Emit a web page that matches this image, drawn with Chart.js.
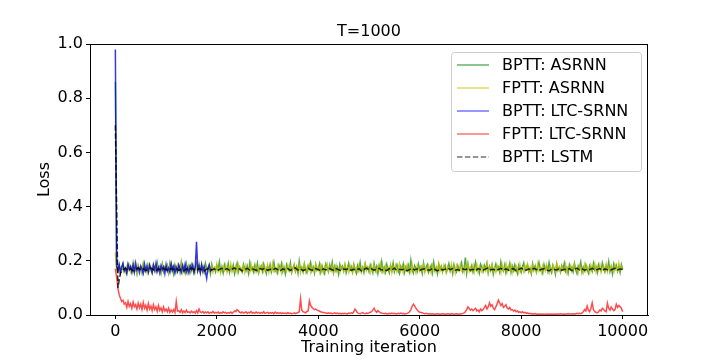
<!DOCTYPE html>
<html>
<head>
<meta charset="utf-8">
<script src="https://cdn.jsdelivr.net/npm/chart.js@4.4.1/dist/chart.umd.min.js"></script>
<style>
  body { margin: 0; background: #fff; }
  canvas { display: block; }
</style>
</head>
<body>
<canvas id="lossChart" width="720" height="360"></canvas>
<script>
/* ================= DATA ================= */
const xTicks = [0, 2000, 4000, 6000, 8000, 10000];
const yTicks = [0, 0.2, 0.4, 0.6, 0.8, 1.0];
const seriesNames = ['BPTT: ASRNN', 'FPTT: ASRNN', 'BPTT: LTC-SRNN', 'FPTT: LTC-SRNN', 'BPTT: LSTM'];
// logging interval (iterations) of each series
const logEvery = [25, 25, 25, 25, 50];

const bpttAsrnn = [
  0.86, 0.19, 0.165, 0.182, 0.157, 0.176, 0.188, 0.161, 0.173, 0.154, 0.185, 0.168, 0.179, 0.158, 0.191, 0.163, 0.174, 0.152, 0.183, 0.169,
  0.177, 0.156, 0.189, 0.164, 0.172, 0.186, 0.159, 0.18, 0.166, 0.153, 0.184, 0.171, 0.162, 0.193, 0.167, 0.178, 0.155, 0.187, 0.16, 0.175,
  0.168, 0.183, 0.157, 0.19, 0.164, 0.176, 0.152, 0.185, 0.17, 0.161, 0.181, 0.158, 0.194, 0.166, 0.173, 0.155, 0.188, 0.163, 0.179, 0.16,
  0.186, 0.169, 0.154, 0.177, 0.192, 0.162, 0.175, 0.158, 0.183, 0.167, 0.156, 0.19, 0.171, 0.164, 0.18, 0.153, 0.187, 0.165, 0.174, 0.159,
  0.182, 0.168, 0.196, 0.161, 0.176, 0.155, 0.185, 0.17, 0.163, 0.189, 0.157, 0.178, 0.166, 0.184, 0.152, 0.173, 0.191, 0.16, 0.177, 0.165,
  0.158, 0.187, 0.171, 0.162, 0.18, 0.154, 0.193, 0.167, 0.175, 0.159, 0.184, 0.164, 0.19, 0.156, 0.172, 0.181, 0.161, 0.188, 0.169, 0.153,
  0.179, 0.165, 0.186, 0.158, 0.174, 0.195, 0.162, 0.17, 0.155, 0.183, 0.167, 0.189, 0.16, 0.176, 0.152, 0.185, 0.171, 0.163, 0.192, 0.157,
  0.173, 0.184, 0.161, 0.178, 0.154, 0.198, 0.166, 0.175, 0.159, 0.187, 0.168, 0.156, 0.182, 0.171, 0.193, 0.163, 0.177, 0.155, 0.186, 0.164,
  0.17, 0.189, 0.158, 0.181, 0.165, 0.153, 0.188, 0.174, 0.16, 0.185, 0.167, 0.194, 0.157, 0.179, 0.162, 0.176, 0.151, 0.187, 0.169, 0.18,
  0.163, 0.184, 0.155, 0.172, 0.191, 0.166, 0.178, 0.159, 0.186, 0.17, 0.154, 0.182, 0.165, 0.193, 0.161, 0.175, 0.157, 0.188, 0.168, 0.177,
  0.16, 0.185, 0.171, 0.156, 0.19, 0.164, 0.179, 0.153, 0.183, 0.168, 0.197, 0.162, 0.176, 0.158, 0.187, 0.169, 0.155, 0.181, 0.166, 0.192,
  0.159, 0.174, 0.186, 0.163, 0.152, 0.18, 0.17, 0.189, 0.157, 0.177, 0.165, 0.184, 0.161, 0.202, 0.168, 0.155, 0.182, 0.172, 0.16, 0.188,
  0.167, 0.178, 0.154, 0.191, 0.163, 0.175, 0.186, 0.158, 0.17, 0.183, 0.156, 0.194, 0.165, 0.173, 0.152, 0.187, 0.169, 0.18, 0.161, 0.176,
  0.184, 0.157, 0.171, 0.19, 0.164, 0.178, 0.153, 0.186, 0.168, 0.159, 0.182, 0.166, 0.175, 0.193, 0.16, 0.172, 0.212, 0.155, 0.188, 0.167,
  0.162, 0.181, 0.158, 0.174, 0.195, 0.165, 0.17, 0.154, 0.187, 0.176, 0.161, 0.183, 0.168, 0.19, 0.156, 0.179, 0.164, 0.185, 0.151, 0.173,
  0.188, 0.166, 0.177, 0.159, 0.196, 0.17, 0.162, 0.184, 0.155, 0.175, 0.167, 0.19, 0.158, 0.18, 0.164, 0.186, 0.172, 0.153, 0.183, 0.169,
  0.157, 0.178, 0.192, 0.163, 0.174, 0.185, 0.16, 0.17, 0.152, 0.189, 0.166, 0.181, 0.158, 0.176, 0.194, 0.164, 0.171, 0.155, 0.186, 0.168,
  0.179, 0.161, 0.193, 0.167, 0.156, 0.184, 0.172, 0.15, 0.187, 0.165, 0.176, 0.159, 0.182, 0.17, 0.191, 0.162, 0.174, 0.154, 0.185, 0.168,
  0.177, 0.16, 0.189, 0.166, 0.153, 0.181, 0.171, 0.195, 0.158, 0.176, 0.164, 0.186, 0.169, 0.155, 0.183, 0.173, 0.161, 0.19, 0.167, 0.178,
  0.156, 0.185, 0.17, 0.163, 0.192, 0.174, 0.159, 0.181, 0.166, 0.197, 0.16, 0.177, 0.152, 0.188, 0.169, 0.183, 0.162, 0.179, 0.157, 0.186,
  0.168
];

const fpttAsrnn = [
  0.23, 0.17, 0.182, 0.16, 0.175, 0.163, 0.187, 0.168, 0.157, 0.179, 0.166, 0.184, 0.159, 0.173, 0.161, 0.189, 0.17, 0.156, 0.181, 0.165,
  0.176, 0.158, 0.186, 0.167, 0.172, 0.155, 0.183, 0.164, 0.178, 0.16, 0.188, 0.169, 0.157, 0.18, 0.166, 0.174, 0.159, 0.185, 0.162, 0.177,
  0.165, 0.181, 0.156, 0.173, 0.19, 0.161, 0.176, 0.168, 0.158, 0.184, 0.17, 0.163, 0.187, 0.157, 0.179, 0.166, 0.174, 0.155, 0.182, 0.169,
  0.16, 0.185, 0.172, 0.158, 0.178, 0.165, 0.191, 0.162, 0.175, 0.156, 0.183, 0.167, 0.171, 0.159, 0.186, 0.164, 0.18, 0.157, 0.176, 0.168,
  0.189, 0.161, 0.174, 0.155, 0.182, 0.17, 0.163, 0.185, 0.158, 0.177, 0.166, 0.19, 0.16, 0.173, 0.164, 0.181, 0.157, 0.186, 0.169, 0.175,
  0.162, 0.179, 0.156, 0.184, 0.167, 0.172, 0.158, 0.188, 0.165, 0.176, 0.16, 0.183, 0.17, 0.155, 0.18, 0.168, 0.187, 0.161, 0.174, 0.163,
  0.185, 0.157, 0.178, 0.166, 0.191, 0.162, 0.173, 0.158, 0.182, 0.169, 0.176, 0.155, 0.186, 0.164, 0.171, 0.16, 0.184, 0.167, 0.179, 0.157,
  0.172, 0.188, 0.161, 0.175, 0.163, 0.183, 0.156, 0.178, 0.168, 0.19, 0.159, 0.174, 0.165, 0.185, 0.157, 0.18, 0.17, 0.162, 0.187, 0.166,
  0.178, 0.158, 0.184, 0.167, 0.155, 0.179, 0.171, 0.189, 0.16, 0.176, 0.164, 0.182, 0.157, 0.173, 0.186, 0.162, 0.169, 0.156, 0.181, 0.174,
  0.161, 0.187, 0.166, 0.177, 0.158, 0.183, 0.17, 0.156, 0.188, 0.165, 0.175, 0.16, 0.184, 0.168, 0.157, 0.179, 0.172, 0.19, 0.163, 0.176,
  0.169, 0.155, 0.182, 0.164, 0.186, 0.171, 0.158, 0.178, 0.166, 0.189, 0.16, 0.174, 0.157, 0.183, 0.168, 0.176, 0.162, 0.185, 0.156, 0.179,
  0.167, 0.184, 0.159, 0.173, 0.19, 0.163, 0.177, 0.156, 0.181, 0.169, 0.186, 0.161, 0.175, 0.158, 0.188, 0.165, 0.172, 0.155, 0.183, 0.17,
  0.16, 0.178, 0.166, 0.187, 0.157, 0.174, 0.163, 0.182, 0.168, 0.155, 0.185, 0.171, 0.159, 0.179, 0.165, 0.19, 0.162, 0.176, 0.157, 0.184,
  0.169, 0.158, 0.181, 0.173, 0.16, 0.188, 0.166, 0.177, 0.155, 0.183, 0.17, 0.162, 0.186, 0.164, 0.175, 0.157, 0.18, 0.168, 0.191, 0.161,
  0.176, 0.165, 0.184, 0.156, 0.172, 0.187, 0.16, 0.179, 0.167, 0.158, 0.182, 0.174, 0.163, 0.189, 0.157, 0.177, 0.169, 0.185, 0.161, 0.173,
  0.158, 0.183, 0.168, 0.176, 0.155, 0.186, 0.164, 0.172, 0.19, 0.16, 0.178, 0.166, 0.184, 0.157, 0.175, 0.163, 0.181, 0.17, 0.156, 0.187,
  0.165, 0.174, 0.159, 0.182, 0.17, 0.188, 0.161, 0.177, 0.156, 0.185, 0.167, 0.173, 0.16, 0.189, 0.164, 0.179, 0.157, 0.183, 0.171, 0.162,
  0.186, 0.168, 0.155, 0.178, 0.164, 0.184, 0.172, 0.159, 0.19, 0.166, 0.176, 0.158, 0.181, 0.169, 0.163, 0.187, 0.157, 0.175, 0.167, 0.182,
  0.16, 0.177, 0.189, 0.165, 0.171, 0.156, 0.183, 0.168, 0.175, 0.158, 0.186, 0.163, 0.179, 0.17, 0.155, 0.184, 0.166, 0.173, 0.19, 0.161,
  0.178, 0.164, 0.185, 0.157, 0.172, 0.181, 0.167, 0.188, 0.159, 0.176, 0.165, 0.183, 0.17, 0.158, 0.186, 0.174, 0.162, 0.192, 0.168, 0.18,
  0.171
];

// BPTT LTC-SRNN only ran up to ~1900 iterations
const bpttLtc = [
  0.98, 0.18, 0.162, 0.185, 0.157, 0.176, 0.19, 0.164, 0.172, 0.155, 0.187, 0.168, 0.179, 0.16, 0.183, 0.158, 0.192, 0.166, 0.174, 0.156,
  0.181, 0.169, 0.154, 0.188, 0.163, 0.177, 0.159, 0.186, 0.171, 0.157, 0.184, 0.165, 0.191, 0.16, 0.175, 0.155, 0.182, 0.167, 0.178, 0.153,
  0.186, 0.162, 0.173, 0.158, 0.189, 0.166, 0.18, 0.155, 0.176, 0.161, 0.185, 0.17, 0.157, 0.183, 0.164, 0.188, 0.159, 0.174, 0.156, 0.181,
  0.168, 0.184, 0.158, 0.176, 0.27, 0.165, 0.182, 0.156, 0.187, 0.163, 0.178, 0.16, 0.135, 0.174, 0.185, 0.162,
  0.17
];

const fpttLtc = [
  0.17, 0.14, 0.1, 0.075, 0.062, 0.05, 0.055, 0.04, 0.045, 0.028, 0.05, 0.032, 0.042, 0.025, 0.048, 0.03, 0.038, 0.022, 0.044, 0.027,
  0.04, 0.02, 0.046, 0.025, 0.036, 0.018, 0.042, 0.022, 0.033, 0.016, 0.038, 0.02, 0.03, 0.014, 0.035, 0.017, 0.026, 0.012, 0.03, 0.015,
  0.022, 0.012, 0.025, 0.01, 0.018, 0.011, 0.02, 0.009, 0.05, 0.014, 0.016, 0.01, 0.02, 0.008, 0.015, 0.009, 0.018, 0.01, 0.012, 0.008,
  0.014, 0.009, 0.012, 0.007, 0.016, 0.008, 0.022, 0.011, 0.009, 0.013, 0.007, 0.011, 0.008, 0.012, 0.006, 0.01, 0.008, 0.013, 0.007, 0.01,
  0.008, 0.011, 0.006, 0.009, 0.007, 0.012, 0.008, 0.01, 0.006, 0.009, 0.007, 0.011, 0.006, 0.01, 0.015, 0.012, 0.02, 0.016, 0.01, 0.008,
  0.011, 0.007, 0.009, 0.012, 0.006, 0.01, 0.008, 0.013, 0.007, 0.009, 0.006, 0.011, 0.008, 0.01, 0.006, 0.009, 0.007, 0.012, 0.006, 0.008,
  0.01, 0.006, 0.008, 0.007, 0.009, 0.005, 0.011, 0.007, 0.008, 0.006, 0.009, 0.005, 0.008, 0.006, 0.007, 0.005, 0.009, 0.006, 0.007, 0.005,
  0.006, 0.008, 0.005, 0.007, 0.009, 0.012, 0.06, 0.018, 0.012, 0.01, 0.008, 0.013, 0.015, 0.052, 0.035, 0.028, 0.024, 0.02, 0.022, 0.018,
  0.016, 0.014, 0.012, 0.01, 0.009, 0.008, 0.007, 0.006, 0.008, 0.006, 0.007, 0.005, 0.006, 0.008, 0.005, 0.007, 0.005, 0.006, 0.004, 0.006,
  0.005, 0.006, 0.005, 0.004, 0.007, 0.006, 0.008, 0.006, 0.012, 0.022, 0.015, 0.008, 0.006, 0.005, 0.007, 0.009, 0.006, 0.005, 0.007, 0.006,
  0.008, 0.01, 0.012, 0.018, 0.025, 0.015, 0.01, 0.016, 0.012, 0.008, 0.007, 0.006, 0.005, 0.006, 0.005, 0.004, 0.006, 0.005, 0.007, 0.005,
  0.006, 0.005, 0.004, 0.006, 0.005, 0.007, 0.005, 0.006, 0.004, 0.005, 0.006, 0.008, 0.012, 0.02, 0.032, 0.04, 0.034, 0.025, 0.018, 0.013,
  0.01, 0.009, 0.008, 0.006, 0.005, 0.006, 0.005, 0.004, 0.005, 0.004, 0.005, 0.004, 0.003, 0.004, 0.005, 0.004, 0.003, 0.004, 0.005, 0.004,
  0.003, 0.004, 0.005, 0.004, 0.003, 0.005, 0.004, 0.003, 0.004, 0.005, 0.004, 0.003, 0.004, 0.005, 0.006, 0.008, 0.012, 0.02, 0.03, 0.024,
  0.018, 0.022, 0.016, 0.02, 0.025, 0.015, 0.018, 0.012, 0.022, 0.016, 0.02, 0.028, 0.035, 0.022, 0.03, 0.045, 0.032, 0.038, 0.025, 0.02,
  0.03, 0.04, 0.055, 0.045, 0.035, 0.042, 0.028, 0.032, 0.038, 0.025, 0.022, 0.028, 0.018, 0.02, 0.015, 0.018, 0.012, 0.015, 0.01, 0.012,
  0.009, 0.012, 0.008, 0.01, 0.006, 0.008, 0.005, 0.006, 0.004, 0.005, 0.004, 0.005, 0.003, 0.004, 0.003, 0.004, 0.003, 0.004, 0.003, 0.003,
  0.004, 0.003, 0.004, 0.003, 0.004, 0.003, 0.004, 0.003, 0.004, 0.003, 0.004, 0.005, 0.004, 0.003, 0.004, 0.003, 0.004, 0.005, 0.003, 0.004,
  0.005, 0.004, 0.005, 0.004, 0.006, 0.005, 0.006, 0.005, 0.008, 0.012, 0.02, 0.015, 0.033, 0.018, 0.012, 0.025, 0.045, 0.02, 0.012, 0.01,
  0.008, 0.012, 0.018, 0.015, 0.025, 0.02, 0.015, 0.012, 0.044, 0.025, 0.018, 0.03, 0.022, 0.016, 0.02, 0.04, 0.028, 0.035, 0.03, 0.025,
  0.012
];

const bpttLstm = [
  0.70, 0.10, 0.155, 0.168, 0.172, 0.165, 0.17, 0.163, 0.169, 0.174,
  0.166, 0.171, 0.164, 0.168, 0.173, 0.167, 0.162, 0.17, 0.166, 0.172,
  0.168, 0.164, 0.171, 0.167, 0.173, 0.165, 0.169, 0.163, 0.17, 0.166,
  0.172, 0.168, 0.165, 0.171, 0.167, 0.162, 0.169, 0.173, 0.166, 0.17,
  0.164, 0.168, 0.172, 0.167, 0.171, 0.165, 0.169, 0.174, 0.166, 0.17,
  0.163, 0.168, 0.172, 0.166, 0.17, 0.167, 0.164, 0.171, 0.168, 0.173,
  0.165, 0.169, 0.166, 0.172, 0.168, 0.163, 0.17, 0.167, 0.171, 0.165,
  0.169, 0.174, 0.166, 0.17, 0.164, 0.168, 0.172, 0.167, 0.165, 0.171,
  0.168, 0.163, 0.17, 0.166, 0.173, 0.169, 0.165, 0.171, 0.167, 0.164,
  0.17, 0.168, 0.172, 0.165, 0.169, 0.166, 0.171, 0.163, 0.168, 0.173,
  0.167, 0.17, 0.165, 0.169, 0.172, 0.166, 0.168, 0.164, 0.171, 0.167,
  0.173, 0.165, 0.169, 0.167, 0.17, 0.163, 0.168, 0.172, 0.166, 0.17,
  0.164, 0.169, 0.171, 0.167, 0.165, 0.172, 0.168, 0.163, 0.17, 0.166,
  0.169, 0.173, 0.167, 0.171, 0.165, 0.168, 0.164, 0.17, 0.167, 0.172,
  0.166, 0.169, 0.163, 0.171, 0.168, 0.165, 0.17, 0.174, 0.167, 0.169,
  0.164, 0.168, 0.172, 0.166, 0.17, 0.165, 0.169, 0.171, 0.163, 0.168,
  0.173, 0.167, 0.165, 0.17, 0.166, 0.172, 0.168, 0.164, 0.169, 0.171,
  0.167, 0.163, 0.17, 0.168, 0.166, 0.172, 0.165, 0.169, 0.167, 0.171,
  0.164, 0.168, 0.173, 0.166, 0.17, 0.165, 0.169, 0.167, 0.172, 0.166,
  0.168, 0.171, 0.164, 0.17, 0.167, 0.165, 0.169, 0.172, 0.166, 0.17,
  0.168
];

/* ================= STYLE ================= */
const FONT = { family: '"DejaVu Sans", sans-serif', size: 16 };
// dense noisy curves look darker on the plot than their legend swatches
const lineColors = [
  'rgba(0,128,0,0.7)',
  'rgba(191,191,0,0.75)',
  'rgba(0,0,220,0.78)',
  'rgba(255,0,0,0.7)',
  'rgba(0,0,0,0.8)'
];
const legendColors = [
  'rgba(0,128,0,0.6)',
  'rgba(191,191,0,0.6)',
  'rgba(0,0,255,0.55)',
  'rgba(255,0,0,0.55)',
  'rgba(0,0,0,0.55)'
];
const LSTM_DASH = [5.5, 2.4];

const toPoints = (values, step) => values.map((v, i) => ({ x: i * step, y: v }));

/* ================= FRAME, TITLE, LEGEND ================= */
const framePlugin = {
  id: 'frame',
  afterDraw(chart) {
    const { ctx, chartArea: a } = chart;
    ctx.save();
    ctx.strokeStyle = '#000';
    ctx.lineWidth = 1;
    ctx.strokeRect(a.left + 0.5, a.top + 0.5, a.right - a.left - 1, a.bottom - a.top);

    ctx.fillStyle = '#000';
    ctx.font = `${FONT.size}px ${FONT.family}`;
    ctx.textAlign = 'center';
    ctx.textBaseline = 'middle';
    ctx.fillText('T=1000', (a.left + a.right) / 2, 32);

    // legend box, upper right
    const bx = 451, by = 52, bw = 190, bh = 119;
    ctx.beginPath();
    ctx.roundRect(bx + 0.5, by + 0.5, bw, bh, 3);
    ctx.fillStyle = 'rgba(255,255,255,0.8)';
    ctx.fill();
    ctx.strokeStyle = '#cccccc';
    ctx.stroke();

    ctx.textAlign = 'left';
    seriesNames.forEach((name, i) => {
      const y = 65 + i * 23;
      ctx.beginPath();
      ctx.strokeStyle = legendColors[i];
      ctx.lineWidth = 1.5;
      ctx.setLineDash(i === 4 ? LSTM_DASH : []);
      ctx.moveTo(457, y);
      ctx.lineTo(489, y);
      ctx.stroke();
      ctx.setLineDash([]);
      ctx.fillStyle = '#000';
      ctx.fillText(name, 502, y + 1);
    });
    ctx.restore();
  }
};

/* ================= LOSS CHART ================= */
const seriesData = [bpttAsrnn, fpttAsrnn, bpttLtc, fpttLtc, bpttLstm];
const drawOrder = [4, 3, 2, 1, 0]; // LSTM ends up on top

const ctx = document.getElementById('lossChart').getContext('2d');

const lossChart = new Chart(ctx, {
  type: 'line',
  data: {
    datasets: seriesData.map((values, i) => ({
      label: seriesNames[i],
      data: toPoints(values, logEvery[i]),
      borderColor: lineColors[i],
      borderWidth: 1.5,
      borderDash: i === 4 ? LSTM_DASH : [],
      pointRadius: 0,
      tension: 0,
      fill: false,
      order: drawOrder[i]
    }))
  },
  options: {
    responsive: false,
    animation: false,
    events: [],
    layout: { padding: { top: 44, right: 72, left: 0, bottom: 0 } },
    plugins: {
      legend: { display: false },
      title: { display: false },
      tooltip: { enabled: false }
    },
    scales: {
      x: {
        type: 'linear',
        min: -500,
        max: 10500,
        afterBuildTicks: scale => { scale.ticks = xTicks.map(v => ({ value: v })); },
        afterFit: scale => { scale.height = 45; },
        grid: { drawOnChartArea: false, tickLength: 4, color: '#000', tickWidth: 1 },
        border: { color: '#000', width: 1 },
        ticks: { color: '#000', font: FONT, padding: 3, maxRotation: 0, callback: v => String(v) },
        title: { display: true, text: 'Training iteration', color: '#000', font: FONT, padding: { top: 0, bottom: 3 } }
      },
      y: {
        min: 0,
        max: 1,
        afterBuildTicks: scale => { scale.ticks = yTicks.map(v => ({ value: v })); },
        afterFit: scale => { scale.width = 90; },
        grid: { drawOnChartArea: false, tickLength: 4, color: '#000', tickWidth: 1 },
        border: { color: '#000', width: 1 },
        ticks: { color: '#000', font: FONT, padding: 3, callback: v => Number(v).toFixed(1) },
        title: { display: true, text: 'Loss', color: '#000', font: FONT, padding: { top: 35, bottom: 0 } }
      }
    }
  },
  plugins: [framePlugin]
});
</script>
</body>
</html>
